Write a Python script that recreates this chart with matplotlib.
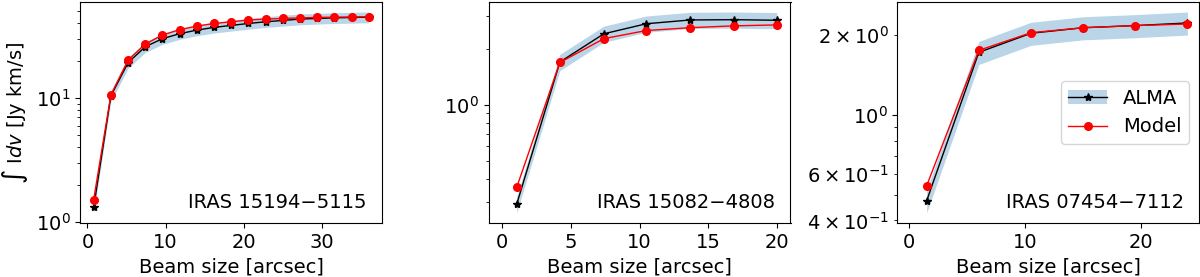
import numpy as np
import matplotlib.pyplot as plt

# Beam size [arcsec] and integrated flux [Jy km/s] per source
names = ["IRAS 15194\u22125115", "IRAS 15082\u22124808", "IRAS 07454\u22127112"]

beam1 = [0.8, 3.0, 5.2, 7.4, 9.6, 11.8, 14.0, 16.2, 18.4, 20.6, 22.8, 25.0, 27.2, 29.4, 31.6, 33.8, 36.0]
alma1 = [1.32, 10.4, 19.3, 25.9, 30.1, 33.0, 35.3, 37.1, 38.5, 39.9, 41.2, 42.2, 43.3, 43.8, 44.3, 44.6, 44.9]
model1 = [1.52, 10.6, 20.2, 27.2, 32.2, 35.6, 38.0, 39.9, 41.2, 42.5, 43.3, 43.8, 44.3, 44.6, 44.9, 45.0, 45.2]

beam2 = [1.05, 4.2, 7.4, 10.5, 13.7, 16.9, 20.0]
alma2 = [0.292, 1.70, 2.41, 2.73, 2.86, 2.87, 2.85]
model2 = [0.360, 1.69, 2.27, 2.51, 2.60, 2.66, 2.69]

beam3 = [1.5, 6.0, 10.5, 15.0, 19.5, 24.0]
alma3 = [0.474, 1.72, 2.03, 2.13, 2.17, 2.22]
model3 = [0.540, 1.75, 2.04, 2.13, 2.17, 2.20]

err_frac = 0.1  # ALMA flux uncertainty

plt.rcParams['font.size'] = 14

fig = plt.figure(figsize=(12, 2.77), dpi=100)
bottom, height = 0.195, 0.798
lefts = [80 / 1200, 488.5 / 1200, 897 / 1200]
width = 302 / 1200
xlims = [(-0.95, 37.7), (-1.0, 21.0), (-1.06, 25.0)]

data = [(beam1, alma1, model1), (beam2, alma2, model2), (beam3, alma3, model3)]

for i, (x, a, m) in enumerate(data):
    ax = fig.add_axes([lefts[i], bottom, width, height])
    x = np.array(x)
    a = np.array(a)
    band = ax.fill_between(x, a * (1 - err_frac), a * (1 + err_frac),
                           color='C0', alpha=0.3, lw=0)
    line, = ax.plot(x, a, 'k*-', lw=1, ms=6)
    mline, = ax.plot(x, m, 'r-o', lw=1, ms=5.5)
    ax.set_yscale('log')
    ax.set_xlim(*xlims[i])
    ax.set_xlabel('Beam size [arcsec]')
    ax.text(0.95, 0.05, names[i], ha='right', va='bottom', transform=ax.transAxes)
    if i == 0:
        ax.set_ylabel(r'$\int$ I$dv$ [Jy km/s]')
    if i == 2:
        ax.legend([(band, line), mline], ['ALMA', 'Model'], loc='center right')

fig.savefig('out.png', dpi=100)
